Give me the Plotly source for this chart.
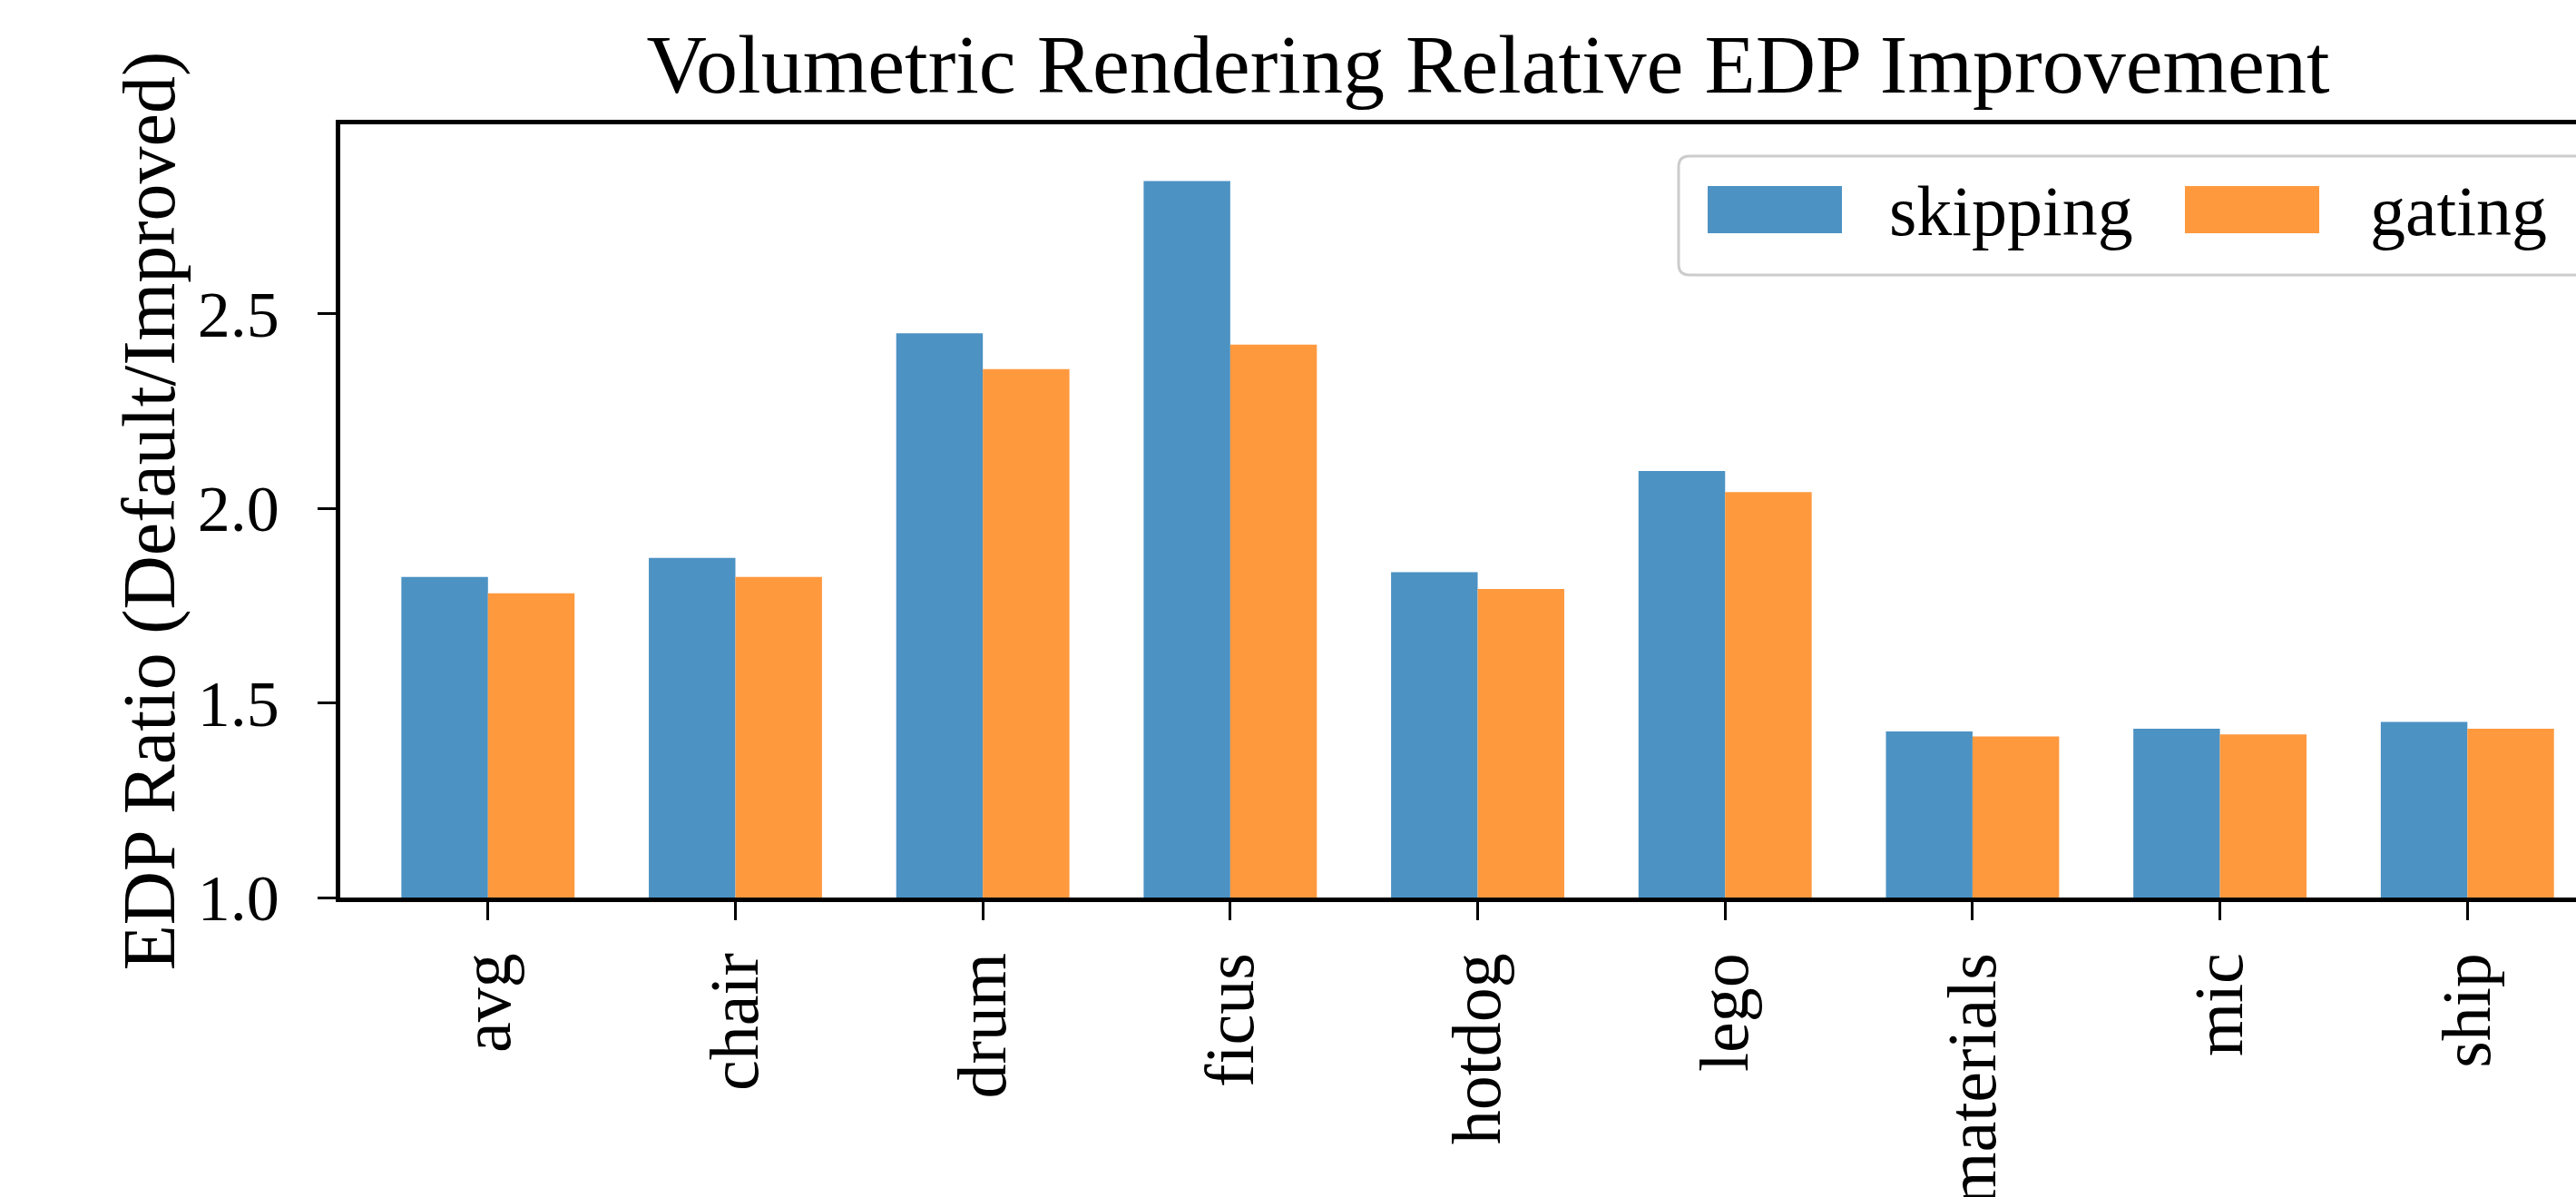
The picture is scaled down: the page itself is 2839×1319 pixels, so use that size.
import plotly.graph_objects as go

# ---- data ----
categories = ["avg", "chair", "drum", "ficus", "hotdog", "lego", "materials", "mic", "ship"]
skipping = [1.824, 1.873, 2.450, 2.841, 1.836, 2.096, 1.427, 1.434, 1.451]
gating = [1.782, 1.824, 2.358, 2.421, 1.793, 2.042, 1.414, 1.419, 1.434]
series_names = ["skipping", "gating"]
y_tick_vals = [1.0, 1.5, 2.0, 2.5]
y_tick_text = ["1.0", "1.5", "2.0", "2.5"]

# ---- styling ----
BLUE = "#4c92c3"
ORANGE = "#ff993e"
FONT = "Liberation Serif"
W, H = 2839, 1319
L, T, B, R = 375, 137, 330, 0
plot_w = W - L - R
plot_h = H - T - B


def px_x(px):
    return (px - L) / plot_w


def px_y(py):
    return (H - B - py) / plot_h


fig = go.Figure()
fig.add_trace(go.Bar(x=categories, y=skipping, name=series_names[0],
                     marker=dict(color=BLUE, line=dict(width=0)), showlegend=False))
fig.add_trace(go.Bar(x=categories, y=gating, name=series_names[1],
                     marker=dict(color=ORANGE, line=dict(width=0)), showlegend=False))

# legend drawn as box + patches + text (matplotlib-like large patches)
x0, x1, y0, y1, r = 1850, 2920, 172, 303, 12


def P(x, y):
    return f"{px_x(x):.6f},{px_y(y):.6f}"


path = (f"M{P(x0 + r, y0)} L{P(x1 - r, y0)} Q{P(x1, y0)} {P(x1, y0 + r)} "
        f"L{P(x1, y1 - r)} Q{P(x1, y1)} {P(x1 - r, y1)} L{P(x0 + r, y1)} "
        f"Q{P(x0, y1)} {P(x0, y1 - r)} L{P(x0, y0 + r)} Q{P(x0, y0)} {P(x0 + r, y0)} Z")
shapes = [dict(type="path", xref="paper", yref="paper", path=path,
               fillcolor="rgba(255,255,255,0.8)", line=dict(color="#cccccc", width=3))]
patches = [(1882, 2030, BLUE, series_names[0], 2080), (2408, 2556, ORANGE, series_names[1], 2610)]
annotations = []
for (a, b, col, name, tx) in patches:
    shapes.append(dict(type="rect", xref="paper", yref="paper",
                       x0=px_x(a), x1=px_x(b), y0=px_y(257), y1=px_y(205),
                       fillcolor=col, line=dict(width=0)))
    annotations.append(dict(text=name, xref="paper", yref="paper", x=px_x(tx), y=px_y(233),
                            xanchor="left", yanchor="middle", showarrow=False,
                            font=dict(family=FONT, size=78, color="black")))

fig.update_layout(
    width=W, height=H,
    margin=dict(l=L, r=R, t=T, b=B, pad=0),
    paper_bgcolor="white", plot_bgcolor="white",
    barmode="group", bargap=0.3, bargroupgap=0.0,
    font=dict(family=FONT, size=76, color="black"),
    title=dict(text="Volumetric Rendering Relative EDP Improvement",
               x=1640 / W, xref="container", xanchor="center",
               y=1 - 70 / H, yref="container", yanchor="middle",
               font=dict(family=FONT, size=92, color="black")),
    xaxis=dict(range=[-0.597, 8.439], showline=True, linecolor="black", linewidth=4.5,
               mirror=True, ticks="outside", ticklen=20, tickwidth=3, tickcolor="black",
               tickangle=-90, showgrid=False, zeroline=False, automargin=False,
               ticklabelstandoff=6, tickfont=dict(family=FONT, size=76)),
    yaxis=dict(range=[1.0, 2.987], showline=True, linecolor="black", linewidth=4.5,
               mirror=False, ticks="outside", ticklen=20, tickwidth=3, tickcolor="black",
               tickvals=y_tick_vals, ticktext=y_tick_text, showgrid=False, zeroline=False,
               automargin=False, ticklabelstandoff=28, tickfont=dict(family=FONT, size=72),
               title=dict(text="EDP Ratio (Default/Improved)", standoff=0,
                          font=dict(family=FONT, size=82))),
    shapes=shapes,
    annotations=annotations,
)

fig.write_html("out.html", config={"displayModeBar": False},
               post_script="document.body.style.margin='0';document.body.style.overflow='hidden';")
